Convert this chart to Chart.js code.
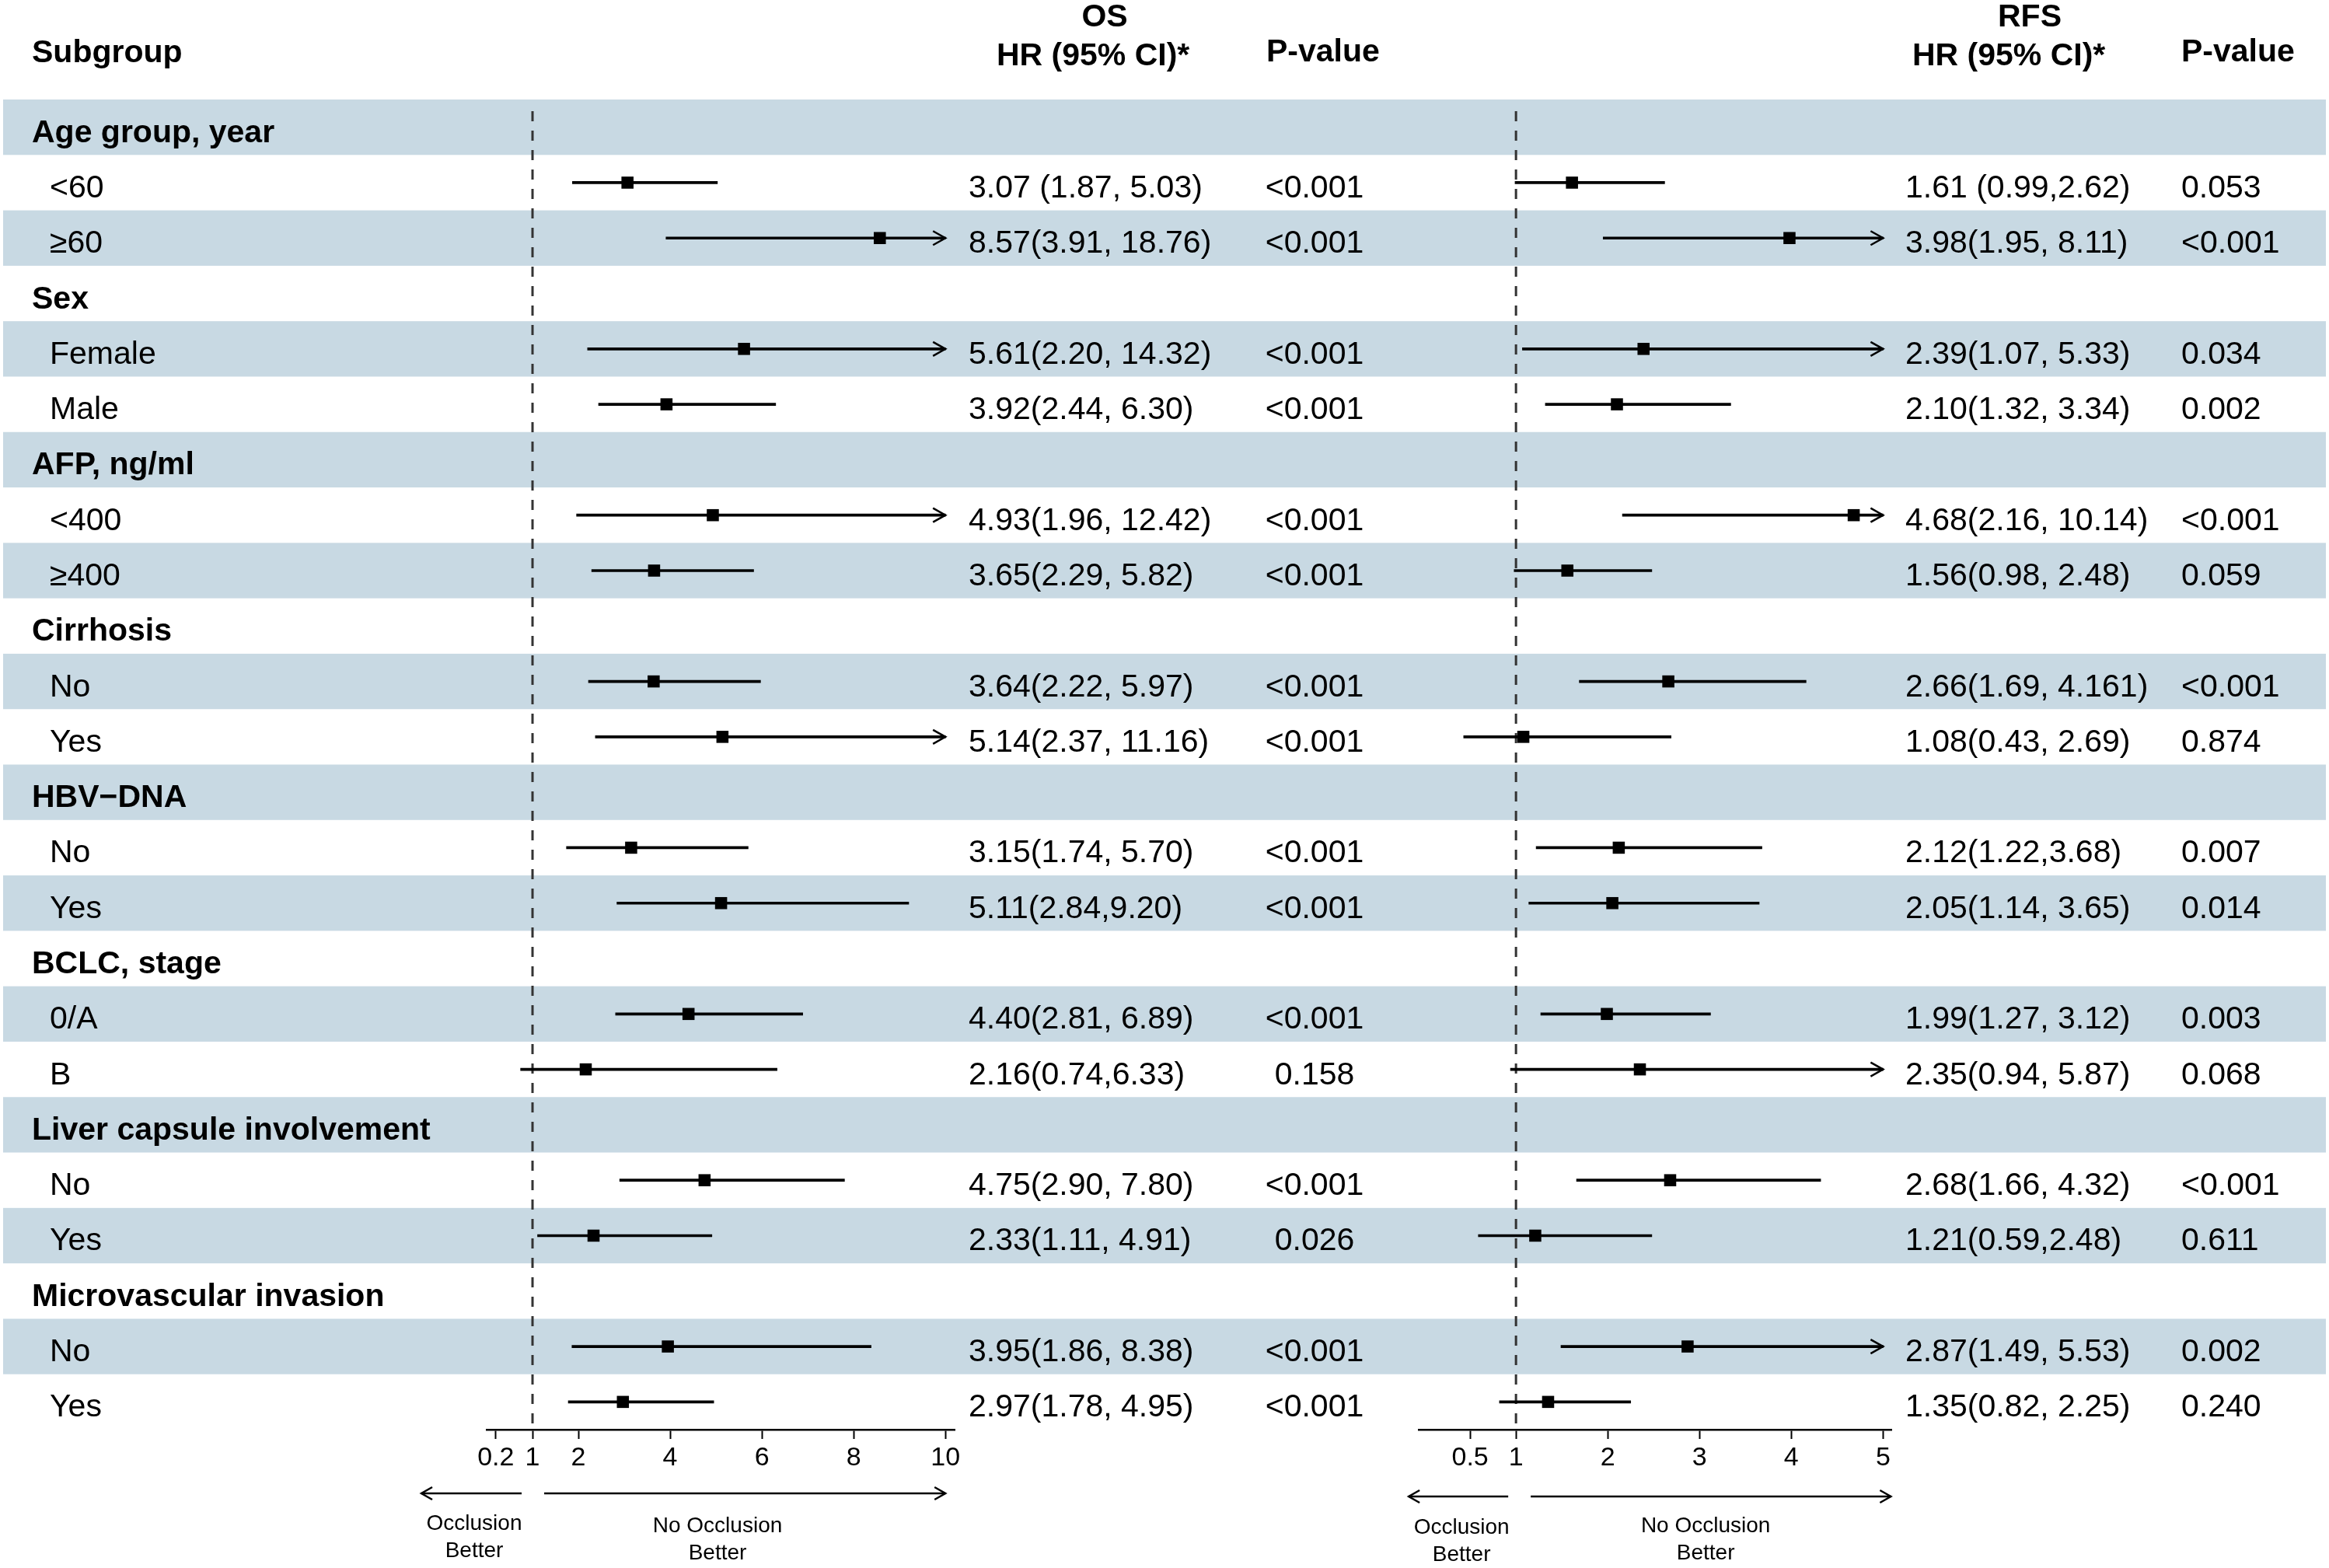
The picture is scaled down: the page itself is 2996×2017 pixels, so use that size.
<!DOCTYPE html>
<html>
<head>
<meta charset="utf-8">
<script src="https://cdn.jsdelivr.net/npm/chart.js@4.4.1/dist/chart.umd.min.js"></script>
<style>
  html, body { margin: 0; padding: 0; background: #fff; }
  canvas { display: block; }
</style>
</head>
<body>
<canvas id="forest" width="2996" height="2017"></canvas>
<script>
// rows, top to bottom
const rowLabels = ['Age group, year', '<60', '\u226560', 'Sex', 'Female', 'Male',
  'AFP, ng/ml', '<400', '\u2265400', 'Cirrhosis', 'No', 'Yes', 'HBV\u2212DNA', 'No', 'Yes',
  'BCLC, stage', '0/A', 'B', 'Liver capsule involvement', 'No', 'Yes',
  'Microvascular invasion', 'No', 'Yes'];
const groupRows = [0, 3, 6, 9, 12, 15, 18, 21];

// OS
const osHr   = [null, 3.07, 8.57, null, 5.61, 3.92, null, 4.93, 3.65, null, 3.64, 5.14, null, 3.15, 5.11, null, 4.40, 2.16, null, 4.75, 2.33, null, 3.95, 2.97];
const osLow  = [null, 1.87, 3.91, null, 2.20, 2.44, null, 1.96, 2.29, null, 2.22, 2.37, null, 1.74, 2.84, null, 2.81, 0.74, null, 2.90, 1.11, null, 1.86, 1.78];
const osHigh = [null, 5.03, 18.76, null, 14.32, 6.30, null, 12.42, 5.82, null, 5.97, 11.16, null, 5.70, 9.20, null, 6.89, 6.33, null, 7.80, 4.91, null, 8.38, 4.95];
const osHrText = ['', '3.07 (1.87, 5.03)', '8.57(3.91, 18.76)', '', '5.61(2.20, 14.32)', '3.92(2.44, 6.30)',
  '', '4.93(1.96, 12.42)', '3.65(2.29, 5.82)', '', '3.64(2.22, 5.97)', '5.14(2.37, 11.16)',
  '', '3.15(1.74, 5.70)', '5.11(2.84,9.20)', '', '4.40(2.81, 6.89)', '2.16(0.74,6.33)',
  '', '4.75(2.90, 7.80)', '2.33(1.11, 4.91)', '', '3.95(1.86, 8.38)', '2.97(1.78, 4.95)'];
const osPText = ['', '<0.001', '<0.001', '', '<0.001', '<0.001', '', '<0.001', '<0.001', '', '<0.001', '<0.001',
  '', '<0.001', '<0.001', '', '<0.001', '0.158', '', '<0.001', '0.026', '', '<0.001', '<0.001'];
const osTicks = [0.2, 1, 2, 4, 6, 8, 10];

// RFS
const rfsHr   = [null, 1.61, 3.98, null, 2.39, 2.10, null, 4.68, 1.56, null, 2.66, 1.08, null, 2.12, 2.05, null, 1.99, 2.35, null, 2.68, 1.21, null, 2.87, 1.35];
const rfsLow  = [null, 0.99, 1.95, null, 1.07, 1.32, null, 2.16, 0.98, null, 1.69, 0.43, null, 1.22, 1.14, null, 1.27, 0.94, null, 1.66, 0.59, null, 1.49, 0.82];
const rfsHigh = [null, 2.62, 8.11, null, 5.33, 3.34, null, 10.14, 2.48, null, 4.161, 2.69, null, 3.68, 3.65, null, 3.12, 5.87, null, 4.32, 2.48, null, 5.53, 2.25];
const rfsHrText = ['', '1.61 (0.99,2.62)', '3.98(1.95, 8.11)', '', '2.39(1.07, 5.33)', '2.10(1.32, 3.34)',
  '', '4.68(2.16, 10.14)', '1.56(0.98, 2.48)', '', '2.66(1.69, 4.161)', '1.08(0.43, 2.69)',
  '', '2.12(1.22,3.68)', '2.05(1.14, 3.65)', '', '1.99(1.27, 3.12)', '2.35(0.94, 5.87)',
  '', '2.68(1.66, 4.32)', '1.21(0.59,2.48)', '', '2.87(1.49, 5.53)', '1.35(0.82, 2.25)'];
const rfsPText = ['', '0.053', '<0.001', '', '0.034', '0.002', '', '<0.001', '0.059', '', '<0.001', '0.874',
  '', '0.007', '0.014', '', '0.003', '0.068', '', '<0.001', '0.611', '', '0.002', '0.240'];
const rfsTicks = [0.5, 1, 2, 3, 4, 5];

const FONT = '"Liberation Sans", Arial, Helvetica, sans-serif';
const BAND = '#c8d9e3';
const OS_CAP = osTicks[osTicks.length - 1];
const RFS_CAP = rfsTicks[rfsTicks.length - 1];

// where each forest panel's x axis sits on the canvas
const axisBox = {
  xOS:  { left: 626, right: 1228 },
  xRFS: { left: 1825, right: 2433 }
};

function ciBars(low, high, cap) {
  return low.map((lo, i) => lo == null ? null : [lo, Math.min(high[i], cap)]);
}

function rowY(chart, i) {
  return chart.scales.y.getPixelForValue(i);
}

function rowHeight(chart) {
  const y = chart.scales.y;
  return (y.bottom - y.top) / rowLabels.length;
}

function arrowHead(ctx, x, y, dir, len, half) {
  ctx.beginPath();
  ctx.moveTo(x - dir * len, y - half);
  ctx.lineTo(x, y);
  ctx.lineTo(x - dir * len, y + half);
  ctx.stroke();
}

function text(ctx, str, x, y, font, align, baseline) {
  ctx.font = font;
  ctx.textAlign = align || 'left';
  ctx.textBaseline = baseline || 'alphabetic';
  ctx.fillText(str, x, y);
}

const placeAxes = {
  id: 'placeAxes',
  afterLayout(chart) {
    const bottom = chart.chartArea.bottom;
    Object.keys(axisBox).forEach(id => {
      const s = chart.scales[id];
      s.left = axisBox[id].left;
      s.right = axisBox[id].right;
      s.width = s.right - s.left;
      s.top = bottom;
      s.bottom = bottom + 80;
      s.height = 80;
      s.configure();
    });
  }
};

const tablePlugin = {
  id: 'tablePlugin',
  beforeDraw(chart) {
    const ctx = chart.ctx;
    const rh = rowHeight(chart);
    ctx.save();
    ctx.fillStyle = '#fff';
    ctx.fillRect(0, 0, chart.width, chart.height);
    ctx.fillStyle = BAND;
    rowLabels.forEach((_, i) => {
      if (i % 2 === 0) {
        ctx.fillRect(4, rowY(chart, i) - rh / 2, 2988, rh);
      }
    });
    ctx.restore();
  },
  beforeDatasetsDraw(chart) {
    const ctx = chart.ctx;
    ctx.save();
    ctx.strokeStyle = '#333';
    ctx.lineWidth = 3;
    ctx.setLineDash([13, 12]);
    ['xOS', 'xRFS'].forEach(id => {
      const x = chart.scales[id].getPixelForValue(1);
      ctx.beginPath();
      ctx.moveTo(x, chart.chartArea.top + 15);
      ctx.lineTo(x, chart.chartArea.bottom - 5);
      ctx.stroke();
    });
    ctx.restore();
  },
  afterDatasetsDraw(chart) {
    const ctx = chart.ctx;
    ctx.save();
    ctx.strokeStyle = '#000';
    ctx.lineWidth = 2.5;
    const panels = [['xOS', osHigh, OS_CAP], ['xRFS', rfsHigh, RFS_CAP]];
    panels.forEach(([id, high, cap]) => {
      const x = chart.scales[id].getPixelForValue(cap);
      high.forEach((h, i) => {
        if (h != null && h > cap) arrowHead(ctx, x, rowY(chart, i), 1, 16, 9);
      });
    });
    ctx.restore();
  },
  afterDraw(chart) {
    const ctx = chart.ctx;
    const bold = 'bold 41px ' + FONT;
    const reg = '41px ' + FONT;
    ctx.save();
    ctx.fillStyle = '#000';

    // header
    text(ctx, 'Subgroup', 41, 80, bold);
    text(ctx, 'OS', 1421, 34, bold, 'center');
    text(ctx, 'HR (95% CI)*', 1282, 84, bold);
    text(ctx, 'P-value', 1629, 79, bold);
    text(ctx, 'RFS', 2611, 34, bold, 'center');
    text(ctx, 'HR (95% CI)*', 2460, 84, bold);
    text(ctx, 'P-value', 2806, 79, bold);

    // rows
    rowLabels.forEach((lab, i) => {
      const y = rowY(chart, i) + 19;
      if (groupRows.includes(i)) {
        text(ctx, lab, 41, y, bold);
      } else {
        text(ctx, lab, 64, y, reg);
      }
      if (osHrText[i]) text(ctx, osHrText[i], 1246, y, reg);
      if (osPText[i]) text(ctx, osPText[i], 1691, y, reg, 'center');
      if (rfsHrText[i]) text(ctx, rfsHrText[i], 2451, y, reg);
      if (rfsPText[i]) text(ctx, rfsPText[i], 2806, y, reg);
    });

    // direction arrows under the axes
    ctx.strokeStyle = '#000';
    ctx.lineWidth = 2.5;
    const small = '28px ' + FONT;
    const os = chart.scales.xOS, rfs = chart.scales.xRFS;
    const o1 = os.getPixelForValue(1), r1 = rfs.getPixelForValue(1);
    const drawDir = (y, l0, l1, r0, r1x) => {
      ctx.beginPath();
      ctx.moveTo(l0, y); ctx.lineTo(l1, y);
      ctx.moveTo(r0, y); ctx.lineTo(r1x, y);
      ctx.stroke();
      arrowHead(ctx, l0, y, -1, 14, 8);
      arrowHead(ctx, r1x, y, 1, 14, 8);
    };
    drawDir(1921, o1 - 143, o1 - 14, o1 + 15, os.getPixelForValue(OS_CAP));
    drawDir(1925, r1 - 138, r1 - 10, r1 + 19, rfs.getPixelForValue(RFS_CAP) + 10);

    text(ctx, 'Occlusion', o1 - 75, 1960, small, 'center', 'middle');
    text(ctx, 'Better', o1 - 75, 1995, small, 'center', 'middle');
    text(ctx, 'No Occlusion', o1 + 238, 1963, small, 'center', 'middle');
    text(ctx, 'Better', o1 + 238, 1998, small, 'center', 'middle');
    text(ctx, 'Occlusion', r1 - 70, 1965, small, 'center', 'middle');
    text(ctx, 'Better', r1 - 70, 2000, small, 'center', 'middle');
    text(ctx, 'No Occlusion', r1 + 244, 1963, small, 'center', 'middle');
    text(ctx, 'Better', r1 + 244, 1998, small, 'center', 'middle');
    ctx.restore();
  }
};

function xAxis(min, max, tickValues) {
  return {
    type: 'linear',
    position: 'bottom',
    min: min,
    max: max,
    afterFit: (scale) => { scale.height = 0; },
    afterBuildTicks: (scale) => { scale.ticks = tickValues.map(v => ({ value: v })); },
    grid: { display: true, drawOnChartArea: false, drawTicks: true, tickLength: 12, tickWidth: 2, tickColor: '#000' },
    border: { display: true, color: '#000', width: 2.5 },
    ticks: {
      autoSkip: false,
      maxRotation: 0,
      minRotation: 0,
      padding: 4,
      color: '#000',
      font: { family: FONT, size: 34 },
      callback: (v) => String(v)
    }
  };
}

const ctx = document.getElementById('forest').getContext('2d');
new Chart(ctx, {
  type: 'bar',
  data: {
    labels: rowLabels,
    datasets: [
      { type: 'bar', data: ciBars(osLow, osHigh, OS_CAP), xAxisID: 'xOS', yAxisID: 'y',
        backgroundColor: '#000', barThickness: 3, grouped: false, borderWidth: 0 },
      { type: 'bar', data: ciBars(rfsLow, rfsHigh, RFS_CAP), xAxisID: 'xRFS', yAxisID: 'y',
        backgroundColor: '#000', barThickness: 3, grouped: false, borderWidth: 0 },
      { type: 'line', data: osHr, xAxisID: 'xOS', yAxisID: 'y', showLine: false,
        pointStyle: 'rect', pointRadius: 11, pointHoverRadius: 11,
        pointBackgroundColor: '#000', pointBorderWidth: 0 },
      { type: 'line', data: rfsHr, xAxisID: 'xRFS', yAxisID: 'y', showLine: false,
        pointStyle: 'rect', pointRadius: 11, pointHoverRadius: 11,
        pointBackgroundColor: '#000', pointBorderWidth: 0 }
    ]
  },
  options: {
    indexAxis: 'y',
    responsive: false,
    animation: false,
    devicePixelRatio: 1,
    layout: { padding: { top: 128, bottom: 178, left: 0, right: 0 } },
    plugins: { legend: { display: false }, tooltip: { enabled: false } },
    scales: {
      y: { type: 'category', display: false, offset: true },
      xOS: xAxis(0, 10.2, osTicks),
      xRFS: xAxis(-0.06, 5.09, rfsTicks)
    }
  },
  plugins: [placeAxes, tablePlugin]
});
</script>
</body>
</html>
